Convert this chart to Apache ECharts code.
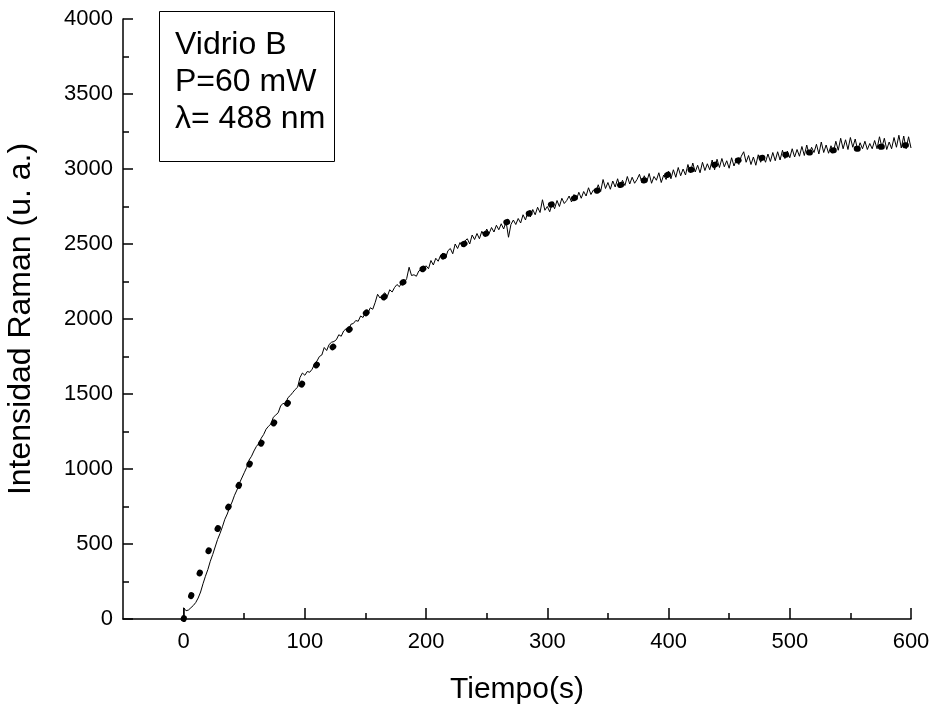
<!DOCTYPE html>
<html>
<head>
<meta charset="utf-8">
<script src="https://cdn.jsdelivr.net/npm/echarts@6/dist/echarts.min.js"></script>
<style>
html,body{margin:0;padding:0;background:#fff;}
#grafico{width:933px;height:712px;}
</style>
</head>
<body>
<div id="grafico"></div>
<script>
// datos: intensidad Raman cada 2 s, de t = 0 a t = 600
var pasoT = 2;
var inicioY = 0;
var intensidad = [
  75, 55, 60, 75, 90, 110, 140, 180, 235, 285,
  330, 385, 430, 480, 530, 570, 615, 665, 700, 745,
  780, 825, 860, 905, 940, 975, 1010, 1060, 1085, 1120,
  1150, 1170, 1205, 1230, 1265, 1285, 1300, 1345, 1360, 1375,
  1420, 1438, 1430, 1475, 1490, 1510, 1530, 1545, 1610, 1640,
  1625, 1650, 1645, 1665, 1700, 1720, 1750, 1760, 1810, 1790,
  1830, 1845, 1850, 1862, 1895, 1885, 1920, 1935, 1925, 1965,
  1970, 1990, 1985, 2020, 2010, 2045, 2040, 2075, 2065, 2110,
  2165, 2140, 2160, 2175, 2150, 2195, 2180, 2210, 2230, 2215,
  2245, 2240, 2270, 2345, 2290, 2295, 2285, 2320, 2330, 2315,
  2355, 2335, 2390, 2360, 2405, 2385, 2425, 2440, 2405, 2455,
  2470, 2435, 2500, 2470, 2510, 2480, 2520, 2535, 2500, 2560,
  2530, 2570, 2535, 2585, 2555, 2600, 2570, 2610, 2580, 2625,
  2595, 2635, 2600, 2650, 2545, 2630, 2660, 2630, 2670, 2640,
  2695, 2660, 2715, 2680, 2730, 2695, 2745, 2710, 2795, 2725,
  2750, 2715, 2770, 2735, 2790, 2750, 2805, 2770, 2790, 2820,
  2780, 2830, 2795, 2845, 2805, 2850, 2820, 2875, 2830, 2860,
  2845, 2895, 2850, 2930, 2870, 2910, 2865, 2920, 2880, 2935,
  2875, 2925, 2890, 2950, 2900, 2945, 2905, 2930, 2965, 2910,
  2955, 2915, 2970, 2905, 2950, 2925, 2975, 2910, 2960, 2930,
  2985, 2935, 2995, 2945, 3010, 2955, 3000, 2960, 3030, 2975,
  3040, 2980, 3025, 2975, 3045, 2990, 3035, 2995, 3060, 2995,
  3065, 3010, 3070, 3015, 3055, 3005, 3075, 3020, 3065, 3030,
  3085, 3115, 3045, 3090, 3030, 3080, 3025, 3095, 3045, 3085,
  3045, 3100, 3050, 3110, 3055, 3115, 3060, 3125, 3070, 3120,
  3075, 3135, 3080, 3130, 3085, 3150, 3090, 3160, 3095, 3145,
  3110, 3165, 3100, 3180, 3110, 3160, 3105, 3155, 3115, 3185,
  3125, 3205, 3135, 3195, 3130, 3210, 3145, 3200, 3125, 3175,
  3135, 3185, 3130, 3170, 3135, 3190, 3135, 3215, 3145, 3205,
  3130, 3180, 3135, 3210, 3145, 3225, 3140, 3220, 3135, 3215,
  3140
];

// curva de ajuste (punteada)
var tiempoAjuste = [0, 7, 14, 21.5, 29.5, 39, 48, 58, 69, 81, 94, 109, 126, 143, 160, 178, 196, 214, 232, 250,
  266, 285, 302, 320, 336, 354, 374, 390, 408, 426, 443, 460, 478, 497, 515, 532, 550, 568, 585, 598];
var valorAjuste = [0, 173, 321, 472, 628, 779, 932, 1087, 1238, 1385, 1527, 1687, 1838, 1982, 2109, 2227, 2327, 2416, 2504, 2571,
  2644, 2704, 2760, 2800, 2844, 2882, 2916, 2938, 2982, 3004, 3038, 3060, 3075, 3095, 3109, 3122, 3131, 3144, 3153, 3160];

var xTicks = [0, 100, 200, 300, 400, 500, 600];
var xMinorTicks = [50, 150, 250, 350, 450, 550];
var leyenda = ['Vidrio B', 'P=60 mW', '\u03bb= 488 nm'];

var datosMedidos = [[0, inicioY]];
for (var i = 0; i < intensidad.length; i++) {
    datosMedidos.push([i * pasoT, intensidad[i]]);
}
var datosAjuste = [];
for (var j = 0; j < tiempoAjuste.length; j++) {
    datosAjuste.push([tiempoAjuste[j], valorAjuste[j]]);
}

var fuente = 'Liberation Sans';
var chart = echarts.init(document.getElementById('grafico'));

var option = {
    backgroundColor: '#fff',
    animation: false,
    textStyle: {fontFamily: fuente, color: '#000'},
    grid: [
        {left: 123, right: 22, top: 19, bottom: 93, outerBoundsMode: 'none', containLabel: false},
        {left: 123, right: 22, top: 19, bottom: 93, outerBoundsMode: 'none', containLabel: false}
    ],
    xAxis: [
        {
            type: 'value',
            gridIndex: 0,
            min: -50,
            max: 600,
            name: 'Tiempo(s)',
            nameLocation: 'middle',
            nameGap: 56,
            nameTextStyle: {fontSize: 30, color: '#000', fontFamily: fuente},
            axisLine: {onZero: false, lineStyle: {color: '#000', width: 1.5}},
            axisTick: {inside: true, length: 11, customValues: xTicks, lineStyle: {color: '#000', width: 1.5}},
            axisLabel: {customValues: xTicks, margin: 12, fontSize: 22, color: '#000', fontFamily: fuente},
            splitLine: {show: false}
        },
        {
            type: 'value',
            gridIndex: 1,
            min: -50,
            max: 600,
            axisLine: {show: false},
            axisTick: {inside: true, length: 6, customValues: xMinorTicks, lineStyle: {color: '#000', width: 1.5}},
            axisLabel: {show: false},
            splitLine: {show: false}
        }
    ],
    yAxis: [
        {
            type: 'value',
            gridIndex: 0,
            min: 0,
            max: 4000,
            interval: 500,
            name: 'Intensidad Raman (u. a.)',
            nameLocation: 'middle',
            nameGap: 86,
            nameTextStyle: {fontSize: 32, color: '#000', fontFamily: fuente},
            axisLine: {onZero: false, lineStyle: {color: '#000', width: 1.5}},
            axisTick: {inside: true, length: 10, lineStyle: {color: '#000', width: 1.5}},
            minorTick: {show: true, splitNumber: 2, length: 6, lineStyle: {color: '#000', width: 1.5}},
            axisLabel: {
                margin: 10, fontSize: 22, color: '#000', fontFamily: fuente,
                formatter: function (v) { return String(v); }
            },
            splitLine: {show: false},
            minorSplitLine: {show: false}
        },
        {
            type: 'value',
            gridIndex: 1,
            min: 0,
            max: 4000,
            show: false
        }
    ],
    series: [
        {
            name: 'ajuste',
            type: 'line',
            xAxisIndex: 0,
            yAxisIndex: 0,
            data: datosAjuste,
            showSymbol: false,
            smooth: 0.3,
            lineStyle: {color: '#000', width: 6, type: [1, 23], cap: 'round'},
            z: 3
        },
        {
            name: 'medido',
            type: 'line',
            xAxisIndex: 0,
            yAxisIndex: 0,
            data: datosMedidos,
            showSymbol: false,
            lineStyle: {color: '#000', width: 1},
            z: 4
        }
    ],
    graphic: [
        {
            type: 'rect',
            left: 157,
            top: 9,
            shape: {width: 175, height: 150},
            style: {fill: 'none', stroke: '#000', lineWidth: 1}
        },
        {
            type: 'text',
            x: 175,
            y: 45,
            style: {text: leyenda[0], fontSize: 32, fontFamily: fuente, fill: '#000', verticalAlign: 'middle'}
        },
        {
            type: 'text',
            x: 175,
            y: 82,
            style: {text: leyenda[1], fontSize: 32, fontFamily: fuente, fill: '#000', verticalAlign: 'middle'}
        },
        {
            type: 'text',
            x: 175,
            y: 119,
            style: {text: leyenda[2], fontSize: 32, fontFamily: fuente, fill: '#000', verticalAlign: 'middle'}
        }
    ]
};

chart.setOption(option);
</script>
</body>
</html>
